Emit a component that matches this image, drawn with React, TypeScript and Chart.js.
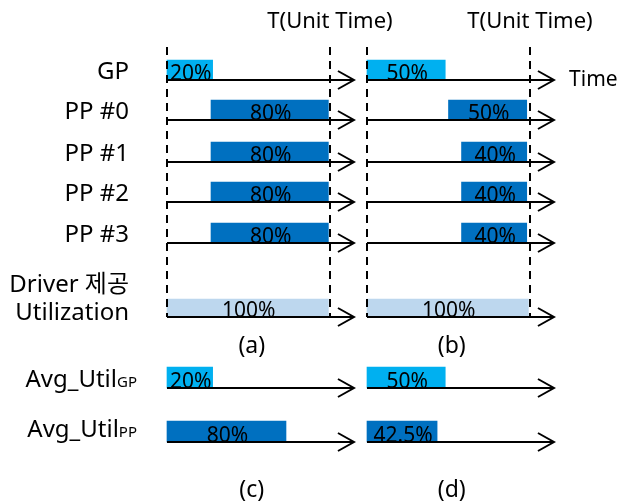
import { useEffect, useRef } from 'react';
import { Chart, registerables } from 'chart.js';

Chart.register(...registerables);

// ---------------- data ----------------
const rowLabels = ['GP', 'PP #0', 'PP #1', 'PP #2', 'PP #3'];
const utilLabel = ['Driver 제공', 'Utilization'];
const avgLabels = ['Avg_Util', 'Avg_Util'];
const avgSubs = ['GP', 'PP'];

// busy intervals, in units of T (unit time)
const aStart = [0, 0.27, 0.27, 0.27, 0.27];
const aEnd = [0.28, 0.99, 0.99, 0.99, 0.99];
const aText = ['20%', '80%', '80%', '80%', '80%'];
const bStart = [0, 0.5, 0.58, 0.58, 0.58];
const bEnd = [0.48, 0.98, 0.98, 0.98, 0.98];
const bText = ['50%', '50%', '40%', '40%', '40%'];
const utilEnd = [0.99, 0.99];
const utilText = ['100%', '100%'];
const cEnd = [0.28, 0.73];
const cText = ['20%', '80%'];
const dEnd = [0.48, 0.43];
const dText = ['50%', '42.5%'];
const captions = ['(a)', '(b)', '(c)', '(d)'];
const unitTimeLabel = 'T(Unit Time)';
const timeLabel = 'Time';

// ---------------- layout / style ----------------
const W = 618;
const H = 502;
const T_PX = 163;
const PANEL_LEFT = [167, 367];
const ARROW_END = 1.147;
const ROW_Y = [80, 120, 162, 202, 243];
const UTIL_Y = 317;
const AVG_Y = [388, 442];
const DASH_TOP = 47;
const CAPTION_Y = [346, 490];
const CAPTION_T = 0.52;
const LABEL_RIGHT = 129;
const FONT = '"Noto Sans", "Noto Sans CJK KR", sans-serif';
const GP_COLOR = '#00B0F0';
const PP_COLOR = '#0070C0';
const UTIL_COLOR = '#BDD7EE';
const rowColors = [GP_COLOR, PP_COLOR, PP_COLOR, PP_COLOR, PP_COLOR];
const avgColors = [GP_COLOR, PP_COLOR];
const BAR_H = 20;
const UTIL_H = 18;
const AVG_H = 21;

function xScaleFor(left: number) {
  return {
    type: 'linear' as const,
    display: false,
    offset: false,
    min: -left / T_PX,
    max: (W - left) / T_PX,
  };
}

const diagramPlugin = {
  id: 'diagram',
  afterDatasetsDraw(chart: any) {
    const ctx = chart.ctx as CanvasRenderingContext2D;
    const xs = [chart.scales.xa, chart.scales.xb];
    const ys = chart.scales.y;
    const py = (v: number) => ys.getPixelForValue(v);
    ctx.save();
    ctx.strokeStyle = '#000';
    ctx.fillStyle = '#000';
    ctx.lineWidth = 2;

    // dashed T boundaries
    ctx.setLineDash([8, 6]);
    xs.forEach((sc) => {
      [0, 1].forEach((t) => {
        const x = Math.round(sc.getPixelForValue(t));
        ctx.beginPath();
        ctx.moveTo(x, py(DASH_TOP));
        ctx.lineTo(x, py(UTIL_Y));
        ctx.stroke();
      });
    });
    ctx.setLineDash([]);

    // time axes with arrows
    const arrow = (sc: any, yv: number) => {
      const x0 = sc.getPixelForValue(0);
      const x1 = sc.getPixelForValue(ARROW_END);
      const y = py(yv);
      ctx.beginPath();
      ctx.moveTo(x0, y);
      ctx.lineTo(x1, y);
      ctx.stroke();
      ctx.beginPath();
      ctx.moveTo(x1 - 16, y - 9);
      ctx.lineTo(x1, y);
      ctx.lineTo(x1 - 16, y + 9);
      ctx.stroke();
    };
    xs.forEach((sc) => {
      [...ROW_Y, UTIL_Y, ...AVG_Y].forEach((yv) => arrow(sc, yv));
    });

    // percent labels inside bars
    ctx.font = `21px ${FONT}`;
    ctx.textAlign = 'center';
    ctx.textBaseline = 'alphabetic';
    chart.data.datasets.forEach((ds: any, di: number) => {
      const meta = chart.getDatasetMeta(di);
      meta.data.forEach((el: any, i: number) => {
        const p = el.getProps(['x', 'base', 'y', 'height'], true);
        const cx = (p.x + p.base) / 2 + 1;
        ctx.fillText(ds.texts[i], cx, p.y + p.height / 2);
      });
    });

    // row labels
    ctx.font = `24px ${FONT}`;
    ctx.textAlign = 'right';
    ctx.textBaseline = 'alphabetic';
    rowLabels.forEach((lab, i) => {
      ctx.fillText(lab, LABEL_RIGHT, py(ROW_Y[i]) - 1);
    });
    ctx.fillText(utilLabel[0], LABEL_RIGHT, py(UTIL_Y) - 25);
    ctx.fillText(utilLabel[1], LABEL_RIGHT, py(UTIL_Y) + 3);

    // Avg_Util with subscript
    avgLabels.forEach((lab, i) => {
      const base = py(AVG_Y[i]) - (i === 1 ? 5 : 1);
      ctx.font = `15px ${FONT}`;
      const sw = ctx.measureText(avgSubs[i]).width;
      ctx.fillText(avgSubs[i], LABEL_RIGHT + 8, base);
      ctx.font = `24px ${FONT}`;
      ctx.fillText(lab, LABEL_RIGHT + 8 - sw, base);
    });

    // captions and headers
    ctx.font = `23px ${FONT}`;
    ctx.textAlign = 'center';
    ctx.textBaseline = 'middle';
    captions.forEach((c, i) => {
      const sc = xs[i % 2];
      ctx.fillText(c, sc.getPixelForValue(CAPTION_T), py(CAPTION_Y[i < 2 ? 0 : 1]));
    });
    ctx.font = `22px ${FONT}`;
    ctx.textBaseline = 'alphabetic';
    xs.forEach((sc) => {
      ctx.fillText(unitTimeLabel, sc.getPixelForValue(1), py(28));
    });
    ctx.font = `21px ${FONT}`;
    ctx.textAlign = 'left';
    ctx.fillText(timeLabel, xs[1].getPixelForValue(1.24), py(86));
    ctx.restore();
  },
};

export default function App() {
  const ref = useRef<HTMLCanvasElement | null>(null);

  useEffect(() => {
    if (!ref.current) return;
    const rows = (starts: number[], ends: number[], lines: number[], h: number) =>
      ends.map((e, i) => ({ x: [starts[i], e], y: lines[i] - h / 2 }));

    const datasets: any[] = [
      {
        label: '(a)',
        xAxisID: 'xa',
        data: rows(aStart, aEnd, ROW_Y, BAR_H),
        backgroundColor: rowColors,
        barThickness: BAR_H,
        texts: aText,
      },
      {
        label: '(a) util',
        xAxisID: 'xa',
        data: rows([0], [utilEnd[0]], [UTIL_Y], UTIL_H),
        backgroundColor: UTIL_COLOR,
        barThickness: UTIL_H,
        texts: [utilText[0]],
      },
      {
        label: '(b)',
        xAxisID: 'xb',
        data: rows(bStart, bEnd, ROW_Y, BAR_H),
        backgroundColor: rowColors,
        barThickness: BAR_H,
        texts: bText,
      },
      {
        label: '(b) util',
        xAxisID: 'xb',
        data: rows([0], [utilEnd[1]], [UTIL_Y], UTIL_H),
        backgroundColor: UTIL_COLOR,
        barThickness: UTIL_H,
        texts: [utilText[1]],
      },
      {
        label: '(c)',
        xAxisID: 'xa',
        data: rows([0, 0], cEnd, AVG_Y, AVG_H),
        backgroundColor: avgColors,
        barThickness: AVG_H,
        texts: cText,
      },
      {
        label: '(d)',
        xAxisID: 'xb',
        data: rows([0, 0], dEnd, AVG_Y, AVG_H),
        backgroundColor: avgColors,
        barThickness: AVG_H,
        texts: dText,
      },
    ];

    const chart = new Chart(ref.current, {
      type: 'bar',
      data: { datasets },
      options: {
        indexAxis: 'y',
        responsive: false,
        animation: false,
        events: [],
        layout: { padding: 0 },
        datasets: { bar: { grouped: false } } as any,
        plugins: { legend: { display: false }, tooltip: { enabled: false } },
        scales: {
          xa: xScaleFor(PANEL_LEFT[0]),
          xb: xScaleFor(PANEL_LEFT[1]),
          y: { type: 'linear', display: false, offset: false, min: 0, max: H, reverse: true },
        },
      } as any,
      plugins: [diagramPlugin],
    });
    return () => chart.destroy();
  }, []);

  return (
    <div style={{ position: 'fixed', left: 0, top: 0, width: W, height: H, background: '#fff' }}>
      <canvas ref={ref} width={W} height={H} style={{ width: W, height: H, display: 'block' }} />
    </div>
  );
}
